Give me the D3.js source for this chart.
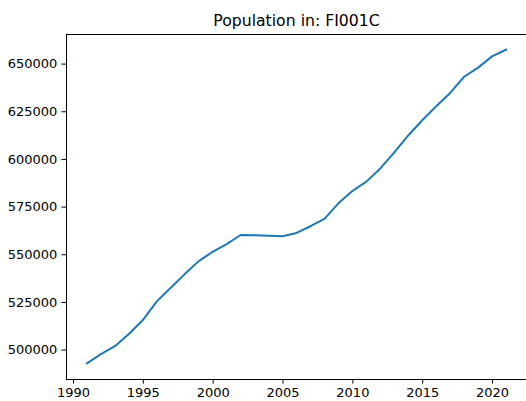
<!DOCTYPE html>
<html>
<head>
<meta charset="utf-8">
<script src="https://cdn.jsdelivr.net/npm/d3@7"></script>
<style>
  html, body { margin: 0; padding: 0; background: #fff; }
  svg { display: block; font-family: "DejaVu Sans", sans-serif; }
</style>
</head>
<body>
<svg id="chart" width="526" height="401"></svg>
<script>
// Annual population series for the FI001C area
const years = [1991, 1992, 1993, 1994, 1995, 1996, 1997, 1998, 1999, 2000,
               2001, 2002, 2003, 2004, 2005, 2006, 2007, 2008, 2009, 2010,
               2011, 2012, 2013, 2014, 2015, 2016, 2017, 2018, 2019, 2020, 2021];
const population = [492800, 497600, 501800, 508200, 515500, 525300, 532400, 539600, 546400, 551300,
                    555300, 560100, 560000, 559700, 559400, 561200, 564700, 568600, 576700, 583200,
                    588100, 595000, 603400, 612300, 620300, 627600, 634600, 643100, 647900, 653800, 657300];
const xTicks = [1990, 1995, 2000, 2005, 2010, 2015, 2020];
const yTicks = [500000, 525000, 550000, 575000, 600000, 625000, 650000];
const title = "Population in: FI001C";

const svg = d3.select("#chart");
const plot = { left: 66, right: 527, top: 34, bottom: 379 };

// Padded domains (5% on each side of the data range)
const xMin = d3.min(years), xMax = d3.max(years);
const xPad = (xMax - xMin) * 0.05;
const yMin = d3.min(population), yMax = d3.max(population);
const yPad = (yMax - yMin) * 0.05;

const x = d3.scaleLinear().domain([xMin - xPad, xMax + xPad]).range([plot.left, plot.right]);
const y = d3.scaleLinear().domain([yMin - yPad, yMax + yPad]).range([plot.bottom, plot.top]);

const data = years.map((yr, i) => ({ year: yr, value: population[i] }));

// Line
svg.append("path")
  .datum(data)
  .attr("fill", "none")
  .attr("stroke", "#1f77b4")
  .attr("stroke-width", 2)
  .attr("stroke-linejoin", "round")
  .attr("stroke-linecap", "square")
  .attr("d", d3.line().x(d => x(d.year)).y(d => y(d.value)));

// Axes
const xAxis = svg.append("g")
  .attr("transform", `translate(0,${plot.bottom})`)
  .call(d3.axisBottom(x).tickValues(xTicks).tickFormat(d3.format("d")).tickSizeInner(4.6).tickSizeOuter(0).tickPadding(4));
const yAxis = svg.append("g")
  .attr("transform", `translate(${plot.left},0)`)
  .call(d3.axisLeft(y).tickValues(yTicks).tickFormat(d3.format("d")).tickSizeInner(4.6).tickSizeOuter(0).tickPadding(4));

[xAxis, yAxis].forEach(g => {
  g.select(".domain").remove();
  g.selectAll(".tick line").attr("stroke", "#000").attr("stroke-width", 1);
  g.selectAll(".tick text")
    .attr("fill", "#000")
    .style("font-family", "'DejaVu Sans', sans-serif")
    .style("font-size", "13px");
});

// Frame (spines)
svg.append("rect")
  .attr("x", plot.left)
  .attr("y", plot.top)
  .attr("width", plot.right - plot.left)
  .attr("height", plot.bottom - plot.top)
  .attr("fill", "none")
  .attr("stroke", "#000")
  .attr("stroke-width", 1)
  .attr("shape-rendering", "crispEdges");

// Title
svg.append("text")
  .attr("x", (plot.left + plot.right) / 2)
  .attr("y", plot.top - 8)
  .attr("text-anchor", "middle")
  .attr("fill", "#000")
  .style("font-size", "15.7px")
  .text(title);
</script>
</body>
</html>
